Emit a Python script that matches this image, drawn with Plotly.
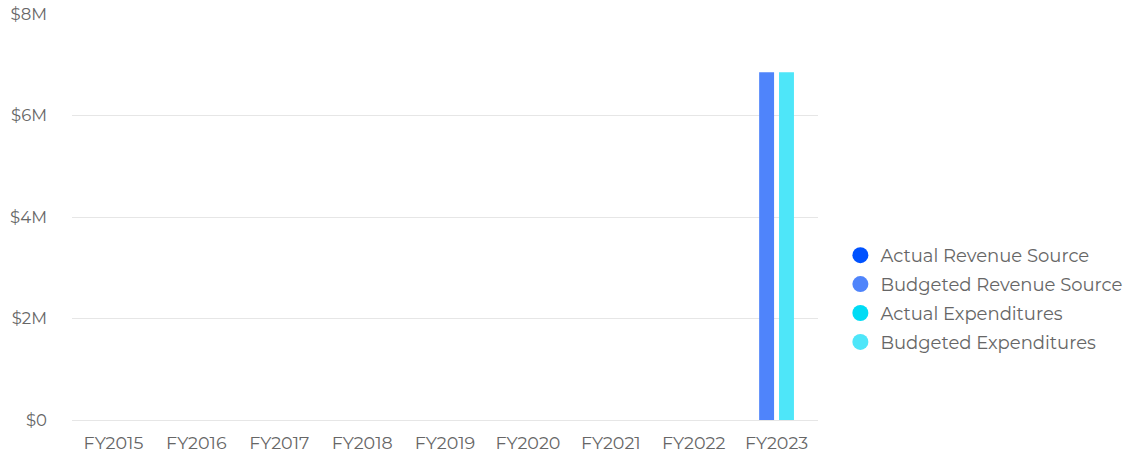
import plotly.graph_objects as go

years = ["FY2015", "FY2016", "FY2017", "FY2018", "FY2019",
         "FY2020", "FY2021", "FY2022", "FY2023"]
budgeted_revenue = [0, 0, 0, 0, 0, 0, 0, 0, 6850000]
budgeted_expenditures = [0, 0, 0, 0, 0, 0, 0, 0, 6850000]

legend_names = ["Actual Revenue Source", "Budgeted Revenue Source",
                "Actual Expenditures", "Budgeted Expenditures"]
legend_colors = ["#0052ff", "#4f84fb", "#00dcf5", "#4ee6f9"]

y_ticks = [0, 2000000, 4000000, 6000000, 8000000]
y_labels = ["$0", "$2M", "$4M", "$6M", "$8M"]

FONT = "Montserrat, Open Sans, sans-serif"

fig = go.Figure()

fig.add_trace(go.Bar(x=years, y=budgeted_revenue, name=legend_names[1],
                     marker=dict(color=legend_colors[1], line_width=0),
                     showlegend=False))
fig.add_trace(go.Bar(x=years, y=budgeted_expenditures, name=legend_names[3],
                     marker=dict(color=legend_colors[3], line_width=0),
                     showlegend=False))

# legend entries with round markers
for i, (name, color) in enumerate(zip(legend_names, legend_colors)):
    fig.add_trace(go.Scatter(x=[None], y=[None], mode="markers", name=name,
                             legendgroup=str(i),
                             marker=dict(color=color, size=16, symbol="circle")))

fig.update_layout(
    width=1129, height=454,
    margin=dict(l=72, r=311, t=14, b=34, autoexpand=False),
    paper_bgcolor="white", plot_bgcolor="white",
    barmode="group", bargap=0.52, bargroupgap=0.25,
    font=dict(family=FONT, color="#666666", size=14),
    legend=dict(x=1.030, xanchor="left", y=0.298, yanchor="middle",
                font=dict(size=18, color="#666666"),
                traceorder="grouped", tracegroupgap=2.5,
                itemclick=False),
    xaxis=dict(showgrid=False, showline=False, ticks="", automargin=False,
               ticklabelstandoff=10, tickfont=dict(size=17.5)),
    yaxis=dict(range=[0, 8000000], tickvals=y_ticks, ticktext=y_labels,
               showgrid=True, gridcolor="#e6e6e6", gridwidth=1,
               zeroline=True, zerolinecolor="#e6e6e6", zerolinewidth=1,
               showline=False, ticks="", ticklabelstandoff=24,
               automargin=False, tickfont=dict(size=16.5)),
)

# drop the page's default body margin so the figure sits at the window corner
fig.write_html("out.html", config={"displayModeBar": False},
               post_script="document.body.style.margin='0';")
